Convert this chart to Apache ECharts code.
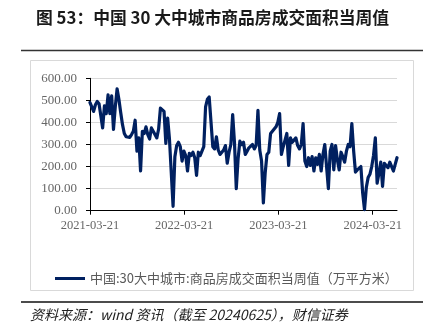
<!DOCTYPE html>
<html>
<head>
<meta charset="utf-8">
<script src="https://cdn.jsdelivr.net/npm/echarts@6/dist/echarts.min.js"></script>
<style>
  html, body { margin: 0; padding: 0; background: #ffffff; }
  #chart { width: 432px; height: 334px; }
</style>
</head>
<body>
<div id="chart"></div>
<script>
// Text content
const titleText = '图 53：中国 30 大中城市商品房成交面积当周值';
const seriesName = '中国:30大中城市:商品房成交面积当周值（万平方米）';
const sourceText = '资料来源：wind 资讯（截至 20240625），财信证券';

// Weekly observations start on this Sunday and run every 7 days
const firstWeek = [2021, 3, 21];

// Dates labelled on the horizontal axis
const tickDates = ['2021-03-21', '2022-03-21', '2023-03-21', '2024-03-21'];

// Value axis range (万平方米)
const yMin = 0;
const yMax = 600;
const yStep = 100;

// Weekly transaction area, 万平方米
const weekly2021 = [
  490, 485, 450, 480, 495, 485, 430, 375, 475, 440,
  525, 440, 520, 368, 470, 552, 505, 445, 390, 350,
  335, 330, 332, 345, 360, 410, 270, 330, 180, 360,
  350, 380, 345, 325, 375, 360, 365, 330, 370, 465,
  460
];
const weekly2022 = [
  450, 305, 420, 325, 320, 20, 245, 295, 310, 290,
  225, 270, 250, 180, 260, 250, 265, 240, 160, 265,
  250, 270, 290, 470, 505, 515, 520, 290, 280, 335,
  275, 255, 250, 275, 295, 215, 265, 300, 435, 310,
  100, 235, 315, 300, 310, 255, 270, 285, 280, 300,
  280, 295
];
const weekly2023 = [
  455, 275, 225, 35, 170, 255, 265, 350, 360, 355,
  380, 400, 440, 255, 290, 320, 350, 205, 330, 310,
  310, 330, 295, 280, 300, 395, 225, 200, 240, 205,
  245, 180, 240, 210, 255, 180, 255, 300, 305, 100,
  270, 300, 185, 295, 230, 185, 265, 245, 220, 270,
  300, 290, 395
];
const weekly2024 = [
  270, 175, 185, 180, 200, 80, 5, 105, 150, 165,
  200, 250, 330, 125, 170, 220, 110, 215, 210, 195,
  220, 225, 180, 210, 240
];

const DAY = 86400000;
const values = [].concat(weekly2021, weekly2022, weekly2023, weekly2024);
const startMs = Date.UTC(firstWeek[0], firstWeek[1] - 1, firstWeek[2]);
// x position in days since the first observation
const points = values.map((v, i) => [7 * i, v]);

function dayOf(s) {
  const p = s.split('-').map(Number);
  return Math.round((Date.UTC(p[0], p[1] - 1, p[2]) - startMs) / DAY);
}
function fmtDay(n) {
  const d = new Date(startMs + n * DAY);
  const pad = k => (k < 10 ? '0' : '') + k;
  return d.getUTCFullYear() + '-' + pad(d.getUTCMonth() + 1) + '-' + pad(d.getUTCDate());
}
const tickValues = tickDates.map(dayOf);

const chart = echarts.init(document.getElementById('chart'), null, { renderer: 'canvas' });

const serif = '"Liberation Serif", "Times New Roman", serif';
const cjk = '"Noto Sans CJK SC", "Noto Sans", sans-serif';

chart.setOption({
  animation: false,
  backgroundColor: '#ffffff',
  title: {
    text: titleText,
    left: 31,
    top: 4,
    textStyle: { fontFamily: cjk, fontSize: 16.8, fontWeight: 'bold', color: '#1a1a1a' }
  },
  graphic: [
    { type: 'line', shape: { x1: 21, y1: 50.5, x2: 423, y2: 50.5 }, style: { stroke: '#333333', lineWidth: 1.5 } },
    { type: 'rect', shape: { x: 30.5, y: 60.5, width: 383, height: 230 }, style: { fill: 'none', stroke: '#d9d9d9', lineWidth: 1 } },
    { type: 'line', shape: { x1: 21, y1: 302, x2: 423, y2: 302 }, style: { stroke: '#111111', lineWidth: 1.5 } },
    {
      type: 'text', left: 30, top: 308,
      style: { text: sourceText, font: 'italic 14px "Noto Sans CJK SC", serif', fill: '#222222' }
    }
  ],
  legend: {
    left: 50,
    top: 267,
    icon: 'rect',
    itemWidth: 30,
    itemHeight: 3,
    itemGap: 10,
    textStyle: { fontFamily: cjk, fontSize: 13, color: '#595959' },
    data: [seriesName]
  },
  grid: { left: 90, right: 35, top: 78.3, bottom: 123.3, containLabel: false },
  xAxis: {
    type: 'value',
    min: 0,
    max: points[points.length - 1][0],
    axisLine: { show: true, onZero: false, lineStyle: { color: '#000000', width: 1 } },
    axisTick: { show: true, length: 4, customValues: tickValues, lineStyle: { color: '#000000' } },
    axisLabel: {
      customValues: tickValues,
      formatter: v => fmtDay(v),
      fontFamily: serif, fontSize: 12.5, color: '#666666', margin: 9,
      hideOverlap: false
    },
    splitLine: { show: false }
  },
  yAxis: {
    type: 'value',
    min: yMin,
    max: yMax,
    interval: yStep,
    axisLine: { show: true, lineStyle: { color: '#000000', width: 1 } },
    axisTick: { show: true, length: 4, lineStyle: { color: '#000000' } },
    axisLabel: {
      formatter: v => v.toFixed(2),
      fontFamily: serif, fontSize: 13, color: '#666666', margin: 13
    },
    splitLine: { show: true, lineStyle: { color: '#d9d9d9', width: 1 } }
  },
  series: [{
    name: seriesName,
    type: 'line',
    data: points,
    showSymbol: false,
    symbol: 'none',
    lineStyle: { color: '#002060', width: 3.2, cap: 'round', join: 'round' },
    itemStyle: { color: '#002060' }
  }]
});
</script>
</body>
</html>
